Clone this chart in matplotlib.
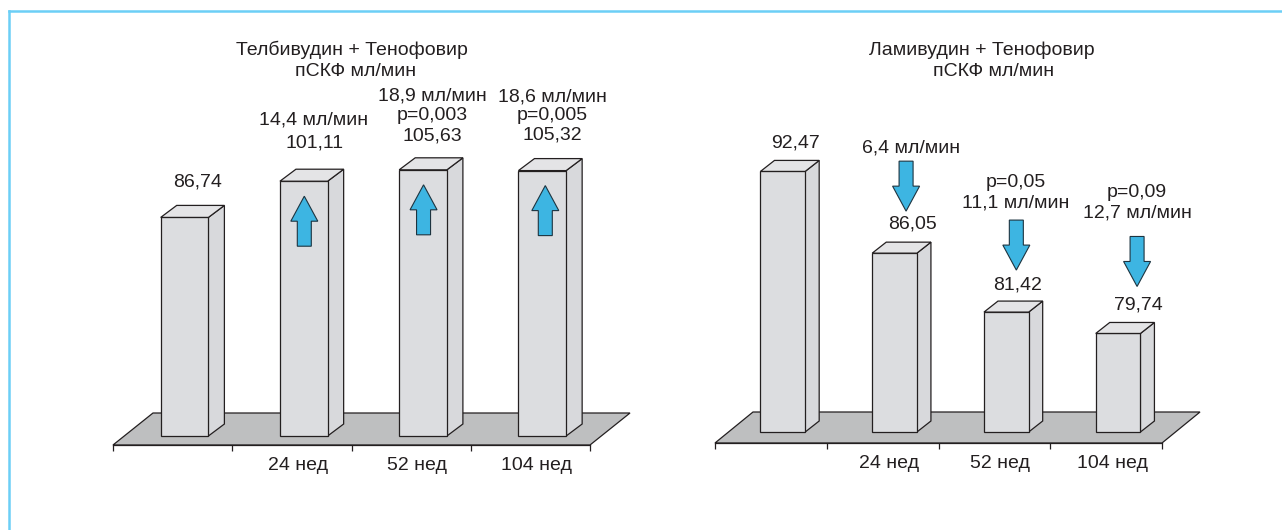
import matplotlib
matplotlib.use("Agg")
import matplotlib.pyplot as plt
from matplotlib.patches import Polygon
from matplotlib.lines import Line2D
from matplotlib.transforms import Affine2D, ScaledTranslation

# ---------------- data ----------------
categories = ['', '24 нед', '52 нед', '104 нед']

left_title = ['Телбивудин + Тенофовир', 'пСКФ мл/мин']
left_values = [86.74, 101.11, 105.63, 105.32]
left_delta = [None, '14,4 мл/мин', '18,9 мл/мин', '18,6 мл/мин']
left_p = [None, None, 'p=0,003', 'p=0,005']
left_arrow = [False, True, True, True]      # up arrows inside bars

right_title = ['Ламивудин + Тенофовир', 'пСКФ мл/мин']
right_values = [92.47, 86.05, 81.42, 79.74]
right_delta = [None, '6,4 мл/мин', '11,1 мл/мин', '12,7 мл/мин']
right_p = [None, None, 'p=0,05', 'p=0,09']
right_arrow = [False, True, True, True]     # down arrows above bars

# ---------------- style / layout ----------------
W, H, DPI = 1282, 530, 100
TXT = '#231f20'
FRONT = '#dcdde0'
SIDE = '#d8d9dc'
TOP = '#e4e4e6'
FLOOR = '#bebfc0'
BLUE = '#3db5e2'
FRAME = '#6ccff6'
FS = 14

plt.rcParams['font.family'] = ['Liberation Sans', 'DejaVu Sans']

fig = plt.figure(figsize=(W / DPI, H / DPI), dpi=DPI)
fig.patch.set_facecolor('white')

# frame (top and left light-blue lines)
fig.add_artist(Line2D([9 / W, 1], [1 - 11 / H, 1 - 11 / H], transform=fig.transFigure,
                      color=FRAME, lw=1.8))
fig.add_artist(Line2D([9 / W, 9 / W], [0, 1 - 11 / H], transform=fig.transFigure,
                      color=FRAME, lw=1.8))


def px_axes(x0, x1, ytop, ybot):
    """axes from pixel box (y measured from top)."""
    return fig.add_axes([x0 / W, (H - ybot) / H, (x1 - x0) / W, (ybot - ytop) / H])


def fmt(v):
    return f"{v:.2f}".replace('.', ',')


def px_trans(ax, x, y, dx, dy):
    return (Affine2D().translate(dx, dy).scale(1 / DPI) + fig.dpi_scale_trans
            + ScaledTranslation(x, y, ax.transData))


def arrow(ax, x, y, dx, dy, up=True):
    s = 1 if up else -1
    hw, sw, hh, L = 13.5, 7, 25, 50
    verts = [(0, 0), (hw, -s * hh), (sw, -s * hh), (sw, -s * L), (-sw, -s * L),
             (-sw, -s * hh), (-hw, -s * hh)]
    ax.add_patch(Polygon(verts, closed=True, facecolor=BLUE, edgecolor='#1d3440',
                         lw=0.8, transform=px_trans(ax, x, y, dx, dy),
                         clip_on=False, zorder=6))


def label(ax, x, y, text, dx, dy):
    ax.annotate(text, xy=(x, y), xycoords='data', xytext=(dx, dy),
                textcoords='offset pixels', ha='center', va='center',
                fontsize=FS, color=TXT, annotation_clip=False, zorder=7)


def draw_chart(box, base, ppu, bar_bottom_px, values, floor_d, bar_d, bar_off, bar_w,
               title, title_pos):
    x0, x1, ytop, ybot = box
    ax = px_axes(x0, x1, ytop, ybot)
    n = len(values)
    ax.set_xlim(-0.5, n - 0.5)
    ax.set_ylim(base - (ybot - bar_bottom_px) / ppu, base + (bar_bottom_px - ytop) / ppu)
    ppx = (x1 - x0) / n
    ylo = ax.get_ylim()[0]

    def d(dxp, dyp):
        return dxp / ppx, dyp / ppu

    # floor
    fdx, fdy = d(*floor_d)
    ax.add_patch(Polygon([(-0.5, ylo), (-0.5 + fdx, ylo + fdy), (n - 0.5 + fdx, ylo + fdy),
                          (n - 0.5, ylo)], closed=True, facecolor=FLOOR,
                         edgecolor=TXT, lw=0.9, clip_on=False, zorder=1))
    # bars
    bdx, bdy = d(*bar_d)
    centers = [i + bar_off for i in range(n)]
    ax.bar(centers, [v - base for v in values], bottom=base, width=bar_w,
           color=FRONT, edgecolor=TXT, lw=0.9, zorder=3)
    for c, v in zip(centers, values):
        xr, xl = c + bar_w / 2, c - bar_w / 2
        ax.add_patch(Polygon([(xr, base), (xr, v), (xr + bdx, v + bdy), (xr + bdx, base + bdy)],
                             closed=True, facecolor=SIDE, edgecolor=TXT, lw=0.9, zorder=2,
                             clip_on=False))
        ax.add_patch(Polygon([(xl, v), (xr, v), (xr + bdx, v + bdy), (xl + bdx, v + bdy)],
                             closed=True, facecolor=TOP, edgecolor=TXT, lw=0.9, zorder=4,
                             clip_on=False))
    # axis
    for s in ['top', 'right', 'left']:
        ax.spines[s].set_visible(False)
    ax.spines['bottom'].set_color(TXT)
    ax.spines['bottom'].set_linewidth(0.9)
    ax.spines['bottom'].set_zorder(5)
    ax.set_yticks([])
    ax.set_xticks(range(n))
    ax.set_xticklabels(categories, fontsize=FS, color=TXT)
    ax.set_xticks([i - 0.5 for i in range(n + 1)], minor=True)
    ax.tick_params(axis='x', which='major', length=0, pad=8.5)
    ax.tick_params(axis='x', which='minor', length=4, width=0.9, color=TXT, direction='out')
    for lab in ax.get_xticklabels():
        lab.set_transform(lab.get_transform() + ScaledTranslation(6 / DPI, 0, fig.dpi_scale_trans))
    ax.patch.set_visible(False)
    # titles
    for t, (tx, ty) in zip(title, title_pos):
        fig.text(tx / W, 1 - ty / H, t, ha='center', va='center', fontsize=FS, color=TXT)
    return ax, centers


# left chart
axL, cL = draw_chart((113, 590, 60, 445), 0.0, 2.52, 436, left_values,
                     (40, 32), (16, 12), 0.10, 0.40, left_title, [(352, 50), (356, 72)])
# right chart
axR, cR = draw_chart((715, 1162, 60, 443), 72.0, 12.73, 432, right_values,
                     (38, 31), (14, 11), 0.107, 0.40, right_title, [(982, 50), (994, 72)])

# ---- left annotations ----
L_val = [(13, 35), (11, 38), (9, 34), (10, 36)]
L_p = [None, None, (9, 54), (10, 55)]
L_delta = [None, (10, 61), (9, 74), (10, 74)]
L_arr = [None, (0.5, -15), (0.5, -15), (3, -15)]
for i, (c, v) in enumerate(zip(cL, left_values)):
    label(axL, c, v, fmt(v), *L_val[i])
    if left_p[i]:
        label(axL, c, v, left_p[i], *L_p[i])
    if left_delta[i]:
        label(axL, c, v, left_delta[i], *L_delta[i])
    if left_arrow[i]:
        arrow(axL, c, v, *L_arr[i], up=True)

# ---- right annotations ----
R_val = [(13, 28), (17.5, 29), (11, 27), (20, 28)]
R_arr = [None, (11.5, 42), (10, 42), (19, 47)]
R_delta = [None, (16.5, 105), (9, 109), (19, 120)]
R_p = [None, None, (9, 130), (19, 141)]
for i, (c, v) in enumerate(zip(cR, right_values)):
    label(axR, c, v, fmt(v), *R_val[i])
    if right_p[i]:
        label(axR, c, v, right_p[i], *R_p[i])
    if right_delta[i]:
        label(axR, c, v, right_delta[i], *R_delta[i])
    if right_arrow[i]:
        arrow(axR, c, v, *R_arr[i], up=False)

fig.savefig('out.png', dpi=DPI, facecolor='white')
